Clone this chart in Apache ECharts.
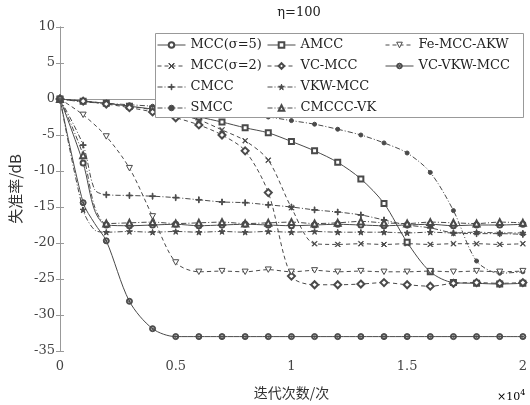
<!DOCTYPE html>
<html>
<head>
<meta charset="utf-8">
<script src="https://cdn.jsdelivr.net/npm/echarts@6/dist/echarts.min.js"></script>
<style>html,body{margin:0;padding:0;background:#fff}#c{width:530px;height:405px}</style>
</head>
<body>
<div id="c"></div>
<script>
// iterations (x). 1500 is an extra reading for the fast-dropping curves (no marker)
const iters = [0,1000,1500,2000,3000,4000,5000,6000,7000,8000,9000,10000,11000,12000,13000,14000,15000,16000,17000,18000,19000,20000];
const xTicks = [0, 0.5, 1, 1.5, 2];
const yTicks = [10,5,0,-5,-10,-15,-20,-25,-30,-35];

const mcc5     = [0,-8.9,-15.5,-17.5,-17.6,-17.5,-17.4,-17.6,-17.5,-17.4,-17.5,-17.6,-17.5,-17.4,-17.5,-17.6,-17.5,-17.4,-17.6,-17.5,-17.5,-17.4];
const mcc2     = [0,-0.3,null,-0.6,-1.0,-1.5,-2.1,-2.9,-4.3,-5.8,-8.5,-15.1,-20.1,-20.2,-20.1,-20.2,-20.1,-20.2,-20.1,-20.1,-20.2,-20.1];
const cmcc     = [0,-6.4,-12.6,-13.3,-13.4,-13.5,-13.7,-14.0,-14.3,-14.4,-14.7,-15.0,-15.4,-15.7,-16.1,-16.8,-17.5,-17.9,-18.6,-18.7,-18.7,-18.8];
const smcc     = [0,-0.4,null,-0.6,-0.8,-1.0,-1.3,-1.7,-2.0,-2.2,-2.5,-3.0,-3.5,-4.2,-5.0,-6.1,-7.5,-10.2,-15.5,-22.5,-24.2,-24.0];
const amcc     = [0,-0.3,null,-0.6,-1.0,-1.4,-1.9,-2.5,-3.2,-4.0,-4.7,-5.9,-7.2,-8.8,-11.1,-14.5,-19.9,-24.0,-25.5,-25.6,-25.7,-25.6];
const vcmcc    = [0,-0.3,null,-0.7,-1.2,-1.8,-2.6,-3.6,-5.0,-7.2,-13.0,-24.6,-25.8,-25.8,-25.7,-25.5,-25.8,-26.0,-25.6,-25.5,-25.6,-25.5];
const vkwmcc   = [0,-15.4,-18.2,-18.5,-18.4,-18.5,-18.4,-18.5,-18.4,-18.5,-18.4,-18.5,-18.4,-18.5,-18.5,-18.5,-18.6,-18.5,-18.6,-18.5,-18.6,-18.6];
const cmcccvk  = [0,-7.8,-15.0,-17.3,-17.2,-17.1,-17.3,-17.2,-17.1,-17.3,-17.2,-17.1,-17.3,-17.2,-17.0,-17.2,-17.3,-17.1,-17.2,-17.3,-17.1,-17.2];
const femccakw = [0,-2.2,null,-5.2,-9.6,-16.3,-22.7,-24.0,-23.9,-24.0,-23.7,-24.0,-23.8,-24.0,-23.9,-24.0,-24.0,-23.9,-24.0,-23.9,-24.0,-23.9];
const vcvkwmcc = [0,-14.4,-17.3,-19.7,-28.1,-31.9,-33.0,-33.0,-33.0,-33.0,-33.0,-33.0,-33.0,-33.0,-33.0,-33.0,-33.0,-33.0,-33.0,-33.0,-33.0,-33.0];

const C = '#4a4a4a';
const DASH = [4,3];
const DASHDOT = [5,2,1,2];
const P_X = 'path://M0.8,0L5,4.2L9.2,0L10,0.8L5.8,5L10,9.2L9.2,10L5,5.8L0.8,10L0,9.2L4.2,5L0,0.8Z';
const P_PLUS = 'path://M4.4,0H5.6V4.4H10V5.6H5.6V10H4.4V5.6H0V4.4H4.4Z';
const P_STAR = 'path://M5,0L6.2,3.6L10,3.6L6.9,5.9L8.1,9.5L5,7.3L1.9,9.5L3.1,5.9L0,3.6L3.8,3.6Z';
const P_TDOWN = 'path://M0,0L10,0L5,9Z';
const P_RING = 'path://M5,0A5,5,0,1,1,5,10A5,5,0,1,1,5,0Z M5,1.6A3.4,3.4,0,1,0,5,8.4A3.4,3.4,0,1,0,5,1.6Z M5,3.7A1.3,1.3,0,1,1,5,6.3A1.3,1.3,0,1,1,5,3.7Z';

const defs = [
  {name:'MCC(σ=5)',   vals:mcc5,     type:'solid', symbol:'emptyCircle', size:5},
  {name:'MCC(σ=2)',   vals:mcc2,     type:DASH,    symbol:P_X,          size:5},
  {name:'CMCC',       vals:cmcc,     type:DASHDOT, symbol:P_PLUS,       size:6},
  {name:'SMCC',       vals:smcc,     type:DASHDOT, symbol:'circle',     size:4},
  {name:'AMCC',       vals:amcc,     type:'solid', symbol:'emptyRect',  size:5},
  {name:'VC-MCC',     vals:vcmcc,    type:DASH,    symbol:'emptyDiamond', size:7},
  {name:'VKW-MCC',    vals:vkwmcc,   type:DASHDOT, symbol:P_STAR,       size:6},
  {name:'CMCCC-VK',   vals:cmcccvk,  type:DASHDOT, symbol:'emptyTriangle', size:6},
  {name:'Fe-MCC-AKW', vals:femccakw, type:DASH,    symbol:P_TDOWN,      size:6, white:true},
  {name:'VC-VKW-MCC', vals:vcvkwmcc, type:'solid', symbol:P_RING,       size:6}
];

const series = defs.map(d => {
  const data = [];
  iters.forEach((x,i) => {
    const v = d.vals[i];
    if (v === null) return;
    if (x % 1000 !== 0) data.push({value:[x,v], symbol:'none'});
    else data.push([x,v]);
  });
  const itemStyle = d.white ? {color:'#fff', borderColor:C, borderWidth:1}
                            : {color:C, borderColor:C, borderWidth:1};
  return {
    name:d.name, type:'line', data, smooth:0.3,
    symbol:d.symbol, symbolSize:d.size, symbolKeepAspect:true, showAllSymbol:true,
    lineStyle:{color:C, width:1, type:d.type},
    itemStyle, emphasis:{disabled:true}, animation:false, z:2
  };
});

const serif = 'DejaVu Serif';
const legendBase = {
  orient:'vertical', itemWidth:28, itemHeight:7, itemGap:7, padding:0,
  textStyle:{fontFamily:serif, fontSize:13, color:'#222', lineHeight:14},
  lineStyle:{width:1}, itemStyle:{borderWidth:1},
  selectedMode:false, z:6
};
const axisLineGrey = {lineStyle:{color:'#999', width:1}};

const chart = echarts.init(document.getElementById('c'), null, {renderer:'canvas'});
chart.setOption({
  backgroundColor:'#fff',
  animation:false,
  title:{text:'η=100', left:294, textAlign:'center', top:1,
         textStyle:{fontFamily:serif, fontSize:13, fontWeight:'normal', color:'#222'}},
  grid:{left:60, right:2, top:27, bottom:53, containLabel:false},
  legend:[
    Object.assign({}, legendBase, {left:157, top:38, data:defs.slice(0,4).map(d=>d.name)}),
    Object.assign({}, legendBase, {left:267, top:38, data:defs.slice(4,8).map(d=>d.name)}),
    Object.assign({}, legendBase, {left:385, top:38, data:defs.slice(8,10).map(d=>d.name)})
  ],
  graphic:[
    {type:'rect', shape:{x:155.5, y:33.5, width:368, height:84}, style:{fill:'#fff', stroke:'#999', lineWidth:1}, z:5},
    {type:'text', left:497, top:389, z:5, style:{
      text:'{a|×10}{b|4}', rich:{a:{fontFamily:serif, fontSize:11, color:'#444'}, b:{fontFamily:serif, fontSize:8, color:'#444', verticalAlign:'top', padding:[0,0,8,0]}}}}
  ],
  xAxis:[
    {type:'value', min:0, max:20000, interval:5000, position:'bottom',
     name:'迭代次数/次', nameLocation:'middle', nameGap:35,
     nameTextStyle:{fontFamily:'Noto Sans CJK SC', fontSize:14, color:'#333'},
     axisLine:axisLineGrey, axisTick:{inside:true, length:4, lineStyle:{color:'#999'}},
     axisLabel:{fontFamily:serif, fontSize:13, color:'#444', margin:9,
       formatter:v => String(xTicks[Math.round(v/5000)])},
     splitLine:{show:false}},
    {type:'value', min:0, max:20000, interval:5000, position:'top',
     axisLine:axisLineGrey, axisTick:{inside:true, length:4, lineStyle:{color:'#999'}},
     axisLabel:{show:false}, splitLine:{show:false}}
  ],
  yAxis:[
    {type:'value', min:-35, max:10, interval:5, position:'left',
     name:'失准率/dB', nameLocation:'middle', nameGap:35,
     nameTextStyle:{fontFamily:'Noto Sans CJK SC', fontSize:15, color:'#333'},
     axisLine:axisLineGrey, axisTick:{inside:true, length:4, lineStyle:{color:'#999'}},
     axisLabel:{fontFamily:serif, fontSize:13, color:'#444', margin:5,
       formatter:v => String(yTicks[yTicks.indexOf(v)])},
     splitLine:{show:false}},
    {type:'value', min:-35, max:10, interval:5, position:'right',
     axisLine:axisLineGrey, axisTick:{inside:true, length:4, lineStyle:{color:'#999'}},
     axisLabel:{show:false}, splitLine:{show:false}}
  ],
  series
});
</script>
</body>
</html>
